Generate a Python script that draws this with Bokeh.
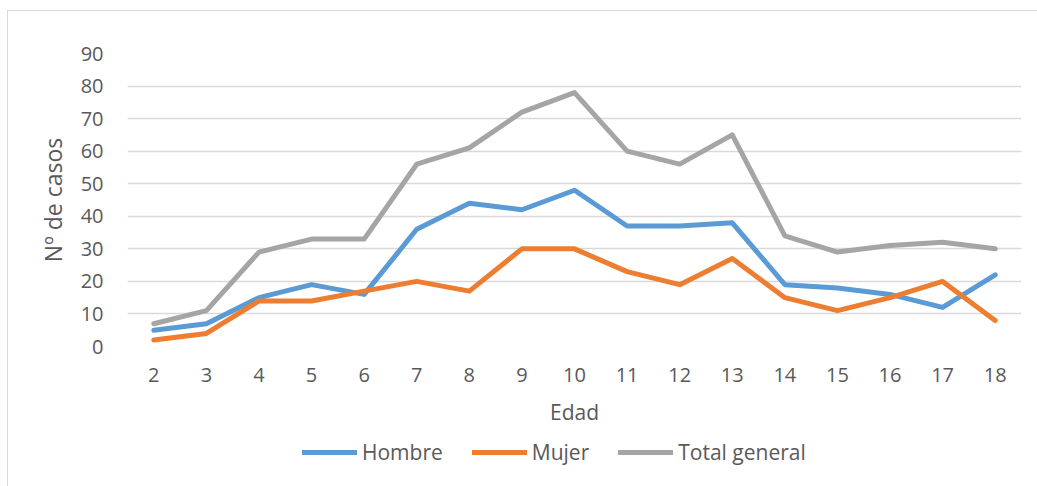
from bokeh.plotting import figure
from bokeh.models import Range1d, FixedTicker, Legend, LegendItem
from bokeh.layouts import column
from bokeh.embed import file_html
from bokeh.resources import INLINE

edad = [2, 3, 4, 5, 6, 7, 8, 9, 10, 11, 12, 13, 14, 15, 16, 17, 18]
hombre = [5, 7, 15, 19, 16, 36, 44, 42, 48, 37, 37, 38, 19, 18, 16, 12, 22]
mujer = [2, 4, 14, 14, 17, 20, 17, 30, 30, 23, 19, 27, 15, 11, 15, 20, 8]
total = [7, 11, 29, 33, 33, 56, 61, 72, 78, 60, 56, 65, 34, 29, 31, 32, 30]
y_ticks = [0, 10, 20, 30, 40, 50, 60, 70, 80, 90]
series_names = ["Hombre", "Mujer", "Total general"]
colors = ["#5B9BD5", "#ED7D31", "#A5A5A5"]

FONT = "Open Sans"
TXT = "#595959"
LW = 5

p = figure(width=1029, height=419, output_backend="svg", toolbar_location=None,
           x_range=Range1d(1.5, 18.5), y_range=Range1d(0, 90),
           min_border_left=119, min_border_right=16, min_border_top=42,
           min_border_bottom=84)
p.outline_line_color = None

for ys, c in zip([hombre, mujer, total], colors):
    p.line(edad, ys, line_color=c, line_width=LW, line_join="round", line_cap="round")

p.xaxis.ticker = FixedTicker(ticks=edad)
p.yaxis.ticker = FixedTicker(ticks=y_ticks)
for ax in (p.xaxis[0], p.yaxis[0]):
    ax.axis_line_color = None
    ax.major_tick_line_color = None
    ax.minor_tick_line_color = None
    ax.major_label_text_font = FONT
    ax.major_label_text_font_size = "20px"
    ax.major_label_text_color = TXT
    ax.axis_label_text_font = FONT
    ax.axis_label_text_color = TXT
    ax.axis_label_text_font_style = "normal"
p.xaxis.axis_label = "Edad"
p.yaxis.axis_label = "Nº de casos"
p.xaxis.axis_label_text_font_size = "21px"
p.yaxis.axis_label_text_font_size = "23px"
p.xaxis.major_label_standoff = 15
p.xaxis.axis_label_standoff = 13
p.yaxis.major_label_standoff = 18
p.yaxis.axis_label_standoff = 9

p.xgrid.grid_line_color = None
p.ygrid.grid_line_color = "#D9D9D9"
p.ygrid.grid_line_width = 1.3

# legend strip
q = figure(width=1029, height=56, output_backend="svg", toolbar_location=None,
           x_range=Range1d(0, 1), y_range=Range1d(0, 1),
           x_axis_location=None, y_axis_location=None,
           min_border=0, min_border_left=0, min_border_right=0,
           min_border_top=0, min_border_bottom=0)
q.grid.visible = False
q.outline_line_color = None
items = []
for name, c in zip(series_names, colors):
    r = q.line([-5, -4], [-5, -4], line_color=c, line_width=LW, line_cap="round")
    items.append(LegendItem(label=name, renderers=[r]))
legend = Legend(items=items, orientation="horizontal", location=(175, 20),
                label_text_font=FONT, label_text_font_size="21px",
                label_text_color=TXT, glyph_width=55, glyph_height=20,
                label_standoff=5, spacing=29, border_line_color=None,
                background_fill_alpha=0, padding=0, margin=0)
q.add_layout(legend, "center")

layout = column(p, q, spacing=0)
layout.styles = {"margin-left": "7px", "margin-top": "10px",
                 "border-left": "1px solid #d9d9d9", "border-top": "1px solid #d9d9d9"}

open("out.html", "w").write(file_html(layout, INLINE))
